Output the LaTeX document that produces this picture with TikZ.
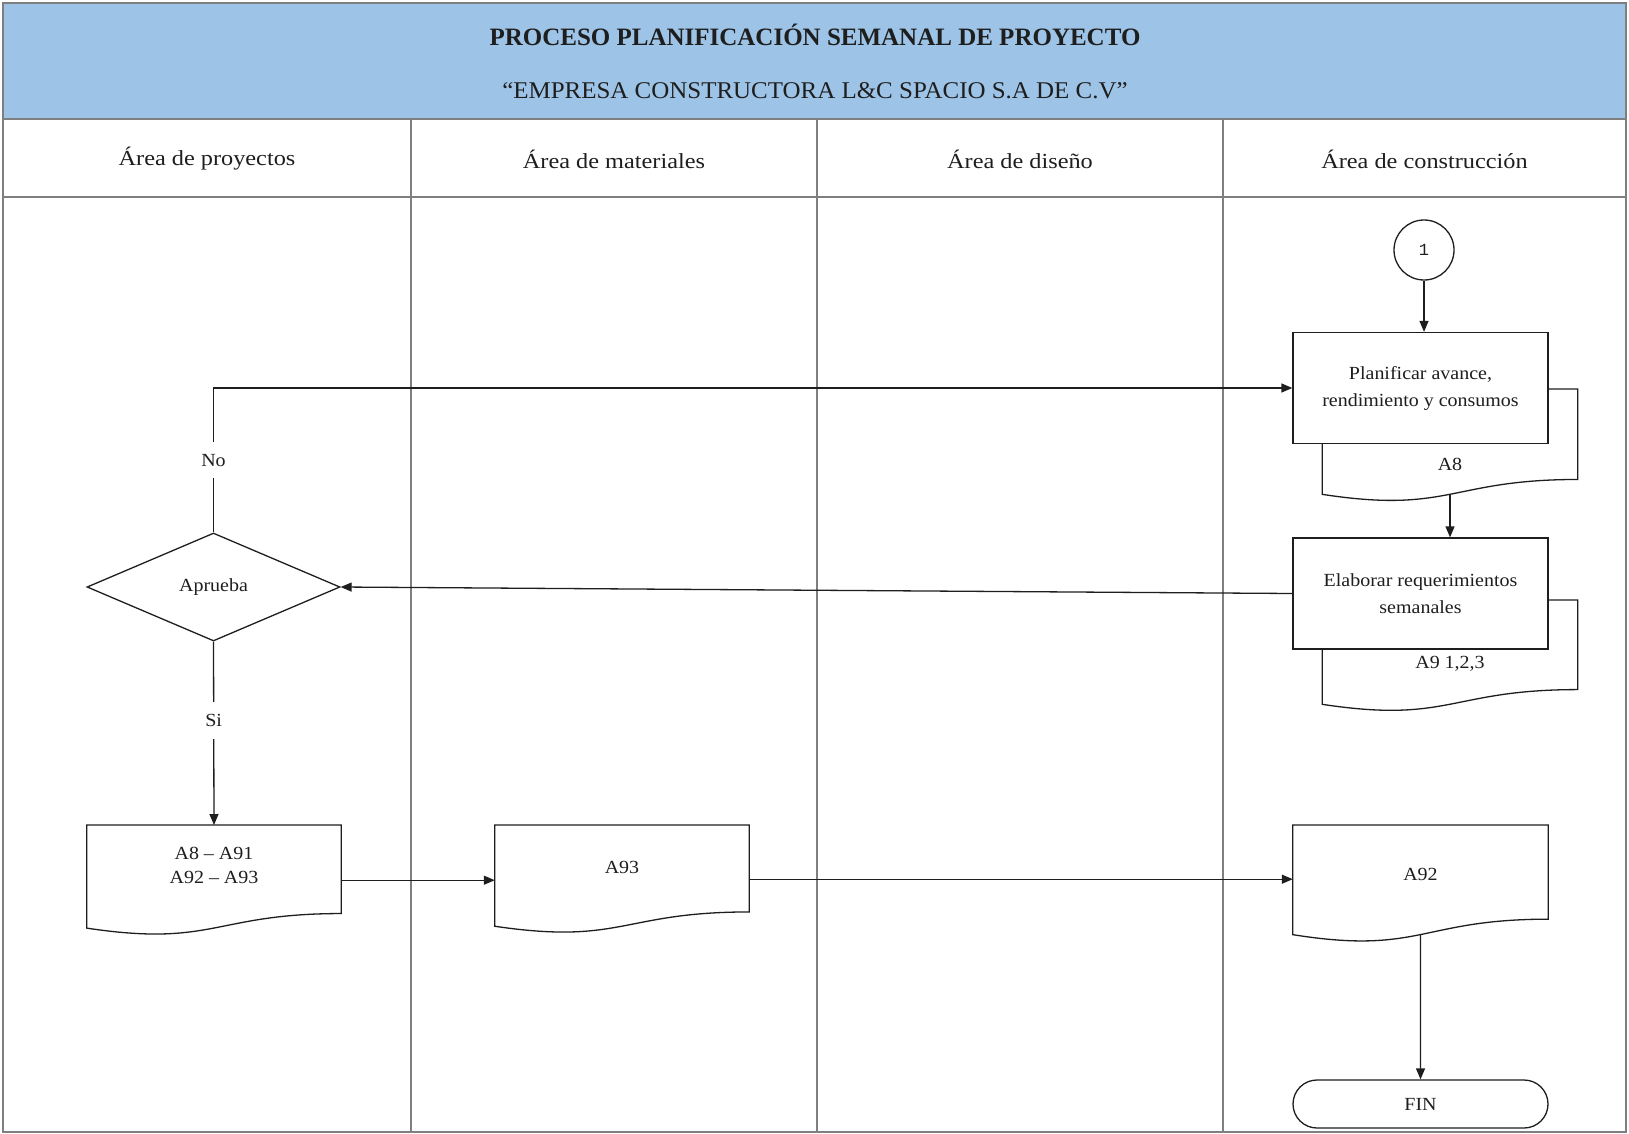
\documentclass[tikz,border=0pt]{standalone}
\usepackage{fontspec}
\setmainfont{Liberation Serif}
\newfontfamily\lanefont[FakeStretch=1.13]{Liberation Serif}
\newfontfamily\bodyfont[FakeStretch=1.08]{Liberation Serif}
\newfontfamily\subfont[FakeStretch=1.04]{Liberation Serif}
\newfontfamily\numfont{Liberation Mono}
\usetikzlibrary{arrows.meta,calc,shapes.geometric,shapes.misc}

\definecolor{headblue}{HTML}{9DC3E6}
\definecolor{framegray}{HTML}{7F7F7F}
\definecolor{ink}{HTML}{1E1E1E}

\pgfdeclarelayer{lanes}
\pgfdeclarelayer{docs}
\pgfsetlayers{lanes,docs,main}

\tikzset{
  frameline/.style={draw=framegray, line width=2.2pt},
  laneline/.style={draw=framegray, line width=1.8pt},
  boxline/.style={draw=ink, line width=1.3pt},
  flowarrow/.style={draw=ink, line width=1.3pt, -{Triangle[length=11pt,width=9pt]}},
  bodytext/.style={inner sep=0pt, align=center, text=ink,
    font=\bodyfont\fontsize{18.5}{24}\selectfont},
  process/.style={boxline, fill=white, rectangle, minimum width=255pt,
    minimum height=111pt, inner sep=0pt, align=center, text=ink,
    font=\bodyfont\fontsize{18.5}{27}\selectfont},
  docbox/.style={rectangle, draw=none, inner sep=0pt, minimum width=255pt, anchor=north},
  decision/.style={diamond, boxline, fill=white, minimum width=253pt,
    minimum height=108pt, inner sep=0pt, text=ink,
    font=\bodyfont\fontsize{18.5}{20}\selectfont},
  terminal/.style={rounded rectangle, boxline, fill=white, minimum width=255pt,
    minimum height=48pt, inner sep=0pt, text=ink,
    font=\bodyfont\fontsize{18.5}{20}\selectfont},
  connector/.style={circle, boxline, fill=white, minimum size=60pt, inner sep=0pt,
    text=ink, font=\numfont\fontsize{17}{20}\selectfont},
  lanehead/.style={inner sep=0pt, text=ink, font=\lanefont\fontsize{21.5}{24}\selectfont},
  flowlabel/.style={fill=white, inner xsep=4pt, inner ysep=12pt, text=ink,
    font=\bodyfont\fontsize{18.5}{20}\selectfont},
}

% outline of a flowchart document shape fitted to a named node
\newcommand\docoutline[1]{%
  \draw[boxline, fill=white] (#1.north west) -- (#1.north east)
    -- ($(#1.north east)!0.802!(#1.south east)$)
    .. controls ($(#1.north)!0.802!(#1.south)$) and ($(#1.north)!1.108!(#1.south)$)
    .. ($(#1.north west)!0.934!(#1.south west)$) -- cycle;}

\begin{document}
\begin{tikzpicture}[x=1pt, y=-1pt]
\useasboundingbox (0,0) rectangle (1629,1134);

% swimlane frame and header
\begin{pgfonlayer}{lanes}
  \fill[white] (0,0) rectangle (1629,1134);
  \fill[headblue] (3,3) rectangle (1626,119);
  \draw[laneline] (411,119) -- (411,1132);
  \draw[laneline] (817,119) -- (817,1132);
  \draw[laneline] (1223,119) -- (1223,1132);
  \draw[frameline] (3,119) -- (1626,119);
  \draw[frameline] (3,197) -- (1626,197);
  \draw[frameline] (3,3) rectangle (1626,1132);
\end{pgfonlayer}

\node[inner sep=0pt, text=ink, font=\fontsize{25}{30}\selectfont\bfseries] (title) at (815,35)
  {PROCESO PLANIFICACIÓN SEMANAL DE PROYECTO};
\node[inner sep=0pt, text=ink, font=\subfont\fontsize{24}{28}\selectfont] (subtitle) at (815,91)
  {“EMPRESA CONSTRUCTORA L\&C SPACIO S.A DE C.V”};

\node[lanehead] (lane1) at (207,159) {Área de proyectos};
\node[lanehead] (lane2) at (614,159) {Área de materiales};
\node[lanehead] (lane3) at (1020,159) {Área de diseño};
\node[lanehead] (lane4) at (1424.5,159) {Área de construcción};

% construction lane
\node[connector] (c1) at (1424,250) {1};

\node[docbox, minimum height=112.4pt] (a8doc) at (1450,389) {};
\node[docbox, minimum height=111.3pt] (a9doc) at (1450,600) {};
\begin{pgfonlayer}{docs}
  \docoutline{a8doc}
  \docoutline{a9doc}
\end{pgfonlayer}

\node[process] (b1) at (1420.5,388) {Planificar avance,\\rendimiento y consumos};
\node[process] (b2) at (1420.5,593.5) {Elaborar requerimientos\\semanales};

\node[bodytext] (a8txt) at ($(a8doc.north)!0.665!(a8doc.south)$) {A8};
\node[bodytext] (a9txt) at ($(a9doc.north)!0.575!(a9doc.south)$) {A9 1,2,3};

% project lane
\node[decision] (dia) at (213.5,587) {Aprueba};

\node[docbox, minimum height=110pt, minimum width=254pt] (d1) at (214,825) {};
\node[docbox, minimum height=108pt, minimum width=254pt] (d2) at (622,825) {};
\node[docbox, minimum height=117pt] (d3) at (1420.5,825) {};
\docoutline{d1}
\docoutline{d2}
\docoutline{d3}
\node[bodytext] (d1txt) at ($(d1.north)!0.37!(d1.south)$) {A8 – A91\\A92 – A93};
\node[bodytext] (d2txt) at ($(d2.north)!0.39!(d2.south)$) {A93};
\node[bodytext] (d3txt) at ($(d3.north)!0.42!(d3.south)$) {A92};

\node[terminal] (fin) at (1420.5,1104) {FIN};

% connectors
\draw[flowarrow] (c1) -- (c1 |- b1.north);
\draw[flowarrow] ($(a8doc.north)!0.933!(a8doc.south)$) -- (b2.north -| a8doc.north);
\draw[flowarrow] (b2.west) -- (dia.east);
\draw[flowarrow] (dia.north) -- node[flowlabel, pos=0.5] {No} (dia.north |- b1.west) -- (b1.west);
\draw[flowarrow] (dia.south) -- node[flowlabel, pos=0.43] {Si} (d1.north);
\draw[flowarrow] (d1.east) -- (d1.east -| d2.west);
\draw[flowarrow] (d2.east) -- (d2.east -| d3.west);
\draw[flowarrow] ($(d3.north)!0.933!(d3.south)$) -- (fin.north);
\end{tikzpicture}
\end{document}
